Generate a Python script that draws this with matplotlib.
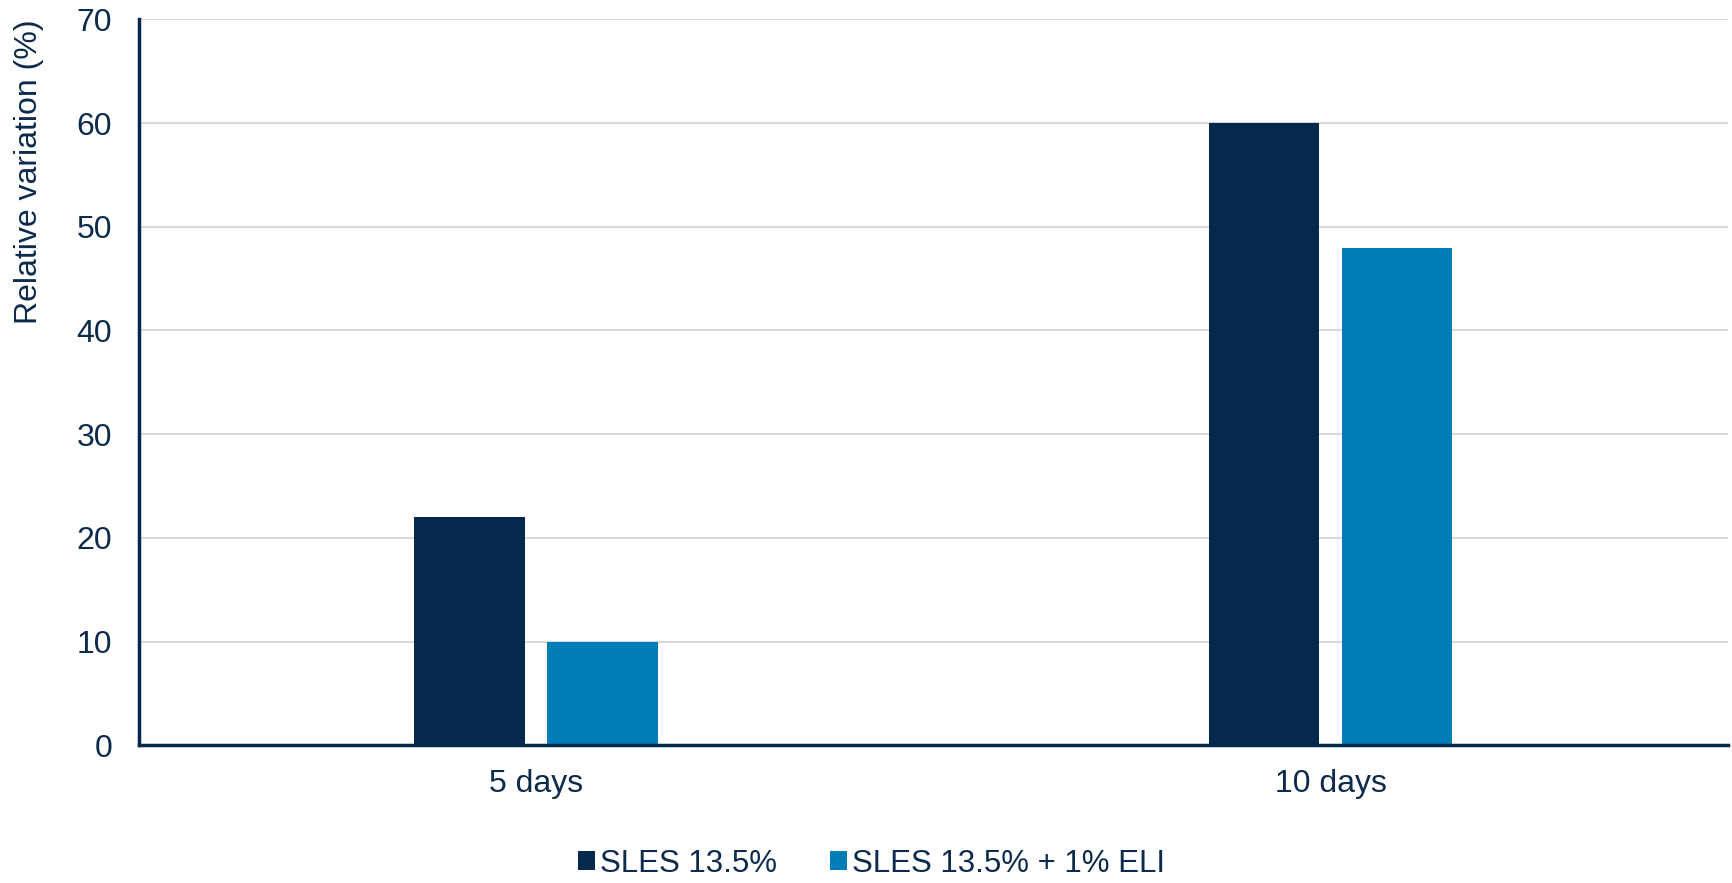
import numpy as np
import matplotlib.pyplot as plt

plt.rcParams['font.family'] = ['Liberation Sans', 'DejaVu Sans']

# data
categories = ["5 days", "10 days"]
series_names = ["SLES 13.5%", "SLES 13.5% + 1% ELI"]
sles = [22, 60]
sles_eli = [10, 48]

dark = "#06284c"
blue = "#007db6"
txt = "#0c2a4b"

fig = plt.figure(figsize=(17.33, 8.83), dpi=100)
ax = fig.add_axes([0.080, 0.156, 0.917, 0.822])

x = np.arange(len(categories))
w = 0.139
off = w / 2 + 0.014
ax.bar(x - off, sles, w, color=dark, label=series_names[0], zorder=3)
ax.bar(x + off, sles_eli, w, color=blue, label=series_names[1], zorder=3)

ax.set_xlim(-0.5, 1.5)
ax.set_ylim(0, 70)
ax.set_yticks(range(0, 71, 10))
ax.set_xticks(x)
ax.set_xticklabels(categories)
ax.yaxis.grid(True, color="#d9d9d9", linewidth=1.5, zorder=0)
ax.set_axisbelow(True)

for s in ["top", "right"]:
    ax.spines[s].set_visible(False)
for s in ["left", "bottom"]:
    ax.spines[s].set_color(dark)
    ax.spines[s].set_linewidth(2.5)
    ax.spines[s].set_zorder(4)

ax.tick_params(axis="y", length=0, pad=19, labelsize=23, labelcolor=txt)
ax.tick_params(axis="x", length=0, pad=17, labelsize=23, labelcolor=txt)
ax.set_ylabel("Relative variation (%)", fontsize=23, color=txt)
ax.yaxis.set_label_coords(-0.0595, 0.79)

fig.legend(loc="center", bbox_to_anchor=(0.503, 0.022), ncol=2, frameon=False,
           fontsize=22.5, labelcolor=txt, handlelength=0.55, handleheight=0.55,
           handletextpad=0.15, columnspacing=1.7)

fig.savefig("out.png", dpi=100)
